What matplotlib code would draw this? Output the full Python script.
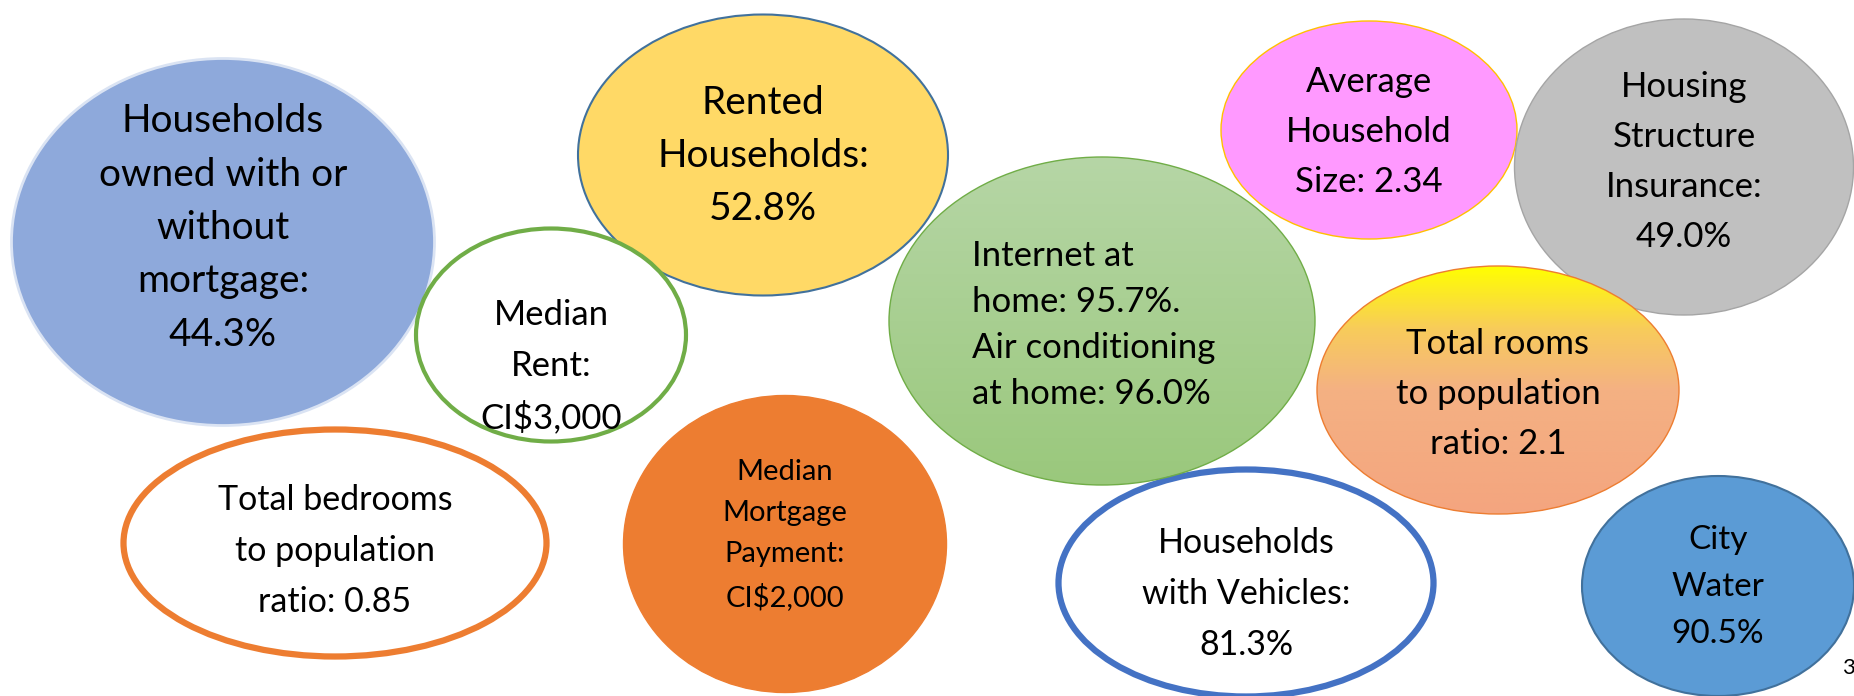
#!/usr/bin/env python3
"""
plot.py

Housing bubble infographic: one ellipse per housing statistic.
Writes out.png (1854x696).
"""

import matplotlib

matplotlib.use("Agg")
import matplotlib.pyplot as plt  # noqa: E402
import numpy as np  # noqa: E402
from matplotlib.colors import LinearSegmentedColormap  # noqa: E402
from matplotlib.patches import Ellipse  # noqa: E402

plt.rcParams["font.family"] = ["Lato", "DejaVu Sans"]

# the statistics shown in the bubbles
owned_pct = 44.3
rented_pct = 52.8
median_rent = "CI$3,000"
internet_pct = 95.7
aircon_pct = 96.0
avg_household_size = 2.34
insurance_pct = 49.0
rooms_ratio = 2.1
bedrooms_ratio = 0.85
median_mortgage = "CI$2,000"
vehicles_pct = 81.3
city_water_pct = 90.5

labels = [
    f"Households\nowned with or\nwithout\nmortgage:\n{owned_pct}%",
    f"Rented\nHouseholds:\n{rented_pct}%",
    f"Median\nRent:\n{median_rent}",
    f"Internet at\nhome: {internet_pct}%.\nAir conditioning\nat home: {aircon_pct}%",
    f"Average\nHousehold\nSize: {avg_household_size}",
    f"Housing\nStructure\nInsurance:\n{insurance_pct}%",
    f"Total rooms\nto population\nratio: {rooms_ratio}",
    f"Total bedrooms\nto population\nratio: {bedrooms_ratio}",
    f"Median\nMortgage\nPayment:\n{median_mortgage}",
    f"Households\nwith Vehicles:\n{vehicles_pct}%",
    f"City\nWater\n{city_water_pct}%",
]

# layout in pixels (x, y from top-left), kept apart from the values
centers = [(223, 242), (763, 155), (551, 335), (1102, 321), (1369, 130), (1684, 167),
           (1498, 390), (335, 543), (785, 544), (1246, 583), (1718, 586)]
widths = [423, 370, 270, 426, 296, 339, 362, 423, 323, 375, 272]
heights = [367, 281, 213, 328, 218, 296, 248, 227, 297, 227, 220]
text_pos = [(223, 228), (763, 156), (551, 367), (972, 325), (1369, 132), (1684, 162),
            (1498, 394), (335, 551), (785, 535), (1246, 594), (1718, 587)]
text_align = ["center", "center", "center", "left", "center", "center",
              "center", "center", "center", "center", "center"]
font_sizes = [28, 28, 25, 25, 25, 25, 25, 24.5, 21, 24.5, 24]
line_spacings = [1.6, 1.6, 1.7, 1.55, 1.7, 1.7, 1.7, 1.72, 1.7, 1.72, 1.72]

# styles: fill ("grad:<name>" for gradients), edge colour, edge width
fills = ["#8EA9DB", "#FFD966", "white", "grad:green", "#FF99FF", "#C0C0C0",
         "grad:rooms", "white", "#ED7D31", "white", "#5B9BD5"]
edges = ["#DAE3F3", "#41719C", "#70AD47", "#70AD47", "#FFC000", "#A5A5A5",
         "#ED7D31", "#ED7D31", "#ED7D31", "#4472C4", "#41719C"]
edge_widths = [2.0, 1.5, 3.0, 1.0, 1.0, 1.0, 1.0, 4.5, 1.0, 4.5, 1.5]

gradients = {
    "green": [(0.0, "#B6D6A6"), (1.0, "#9AC87C")],
    "rooms": [(0.0, "#FFFF00"), (0.25, "#F8CC5A"), (0.5, "#F4B183"), (1.0, "#F4A57F")],
}

W, H = 1854, 696
fig = plt.figure(figsize=(W / 100, H / 100), dpi=100)
ax = fig.add_axes([0, 0, 1, 1])
ax.set_xlim(0, W)
ax.set_ylim(H, 0)
ax.axis("off")

for i, lab in enumerate(labels):
    cx, cy = centers[i]
    w, h = widths[i], heights[i]
    fill = fills[i]
    if fill.startswith("grad:"):
        e = Ellipse((cx, cy), w, h, facecolor="none", edgecolor=edges[i],
                    linewidth=edge_widths[i], zorder=3)
        ax.add_patch(e)
        cmap = LinearSegmentedColormap.from_list(fill, gradients[fill[5:]])
        grad = np.linspace(0, 1, 256).reshape(-1, 1)
        im = ax.imshow(grad, cmap=cmap, aspect="auto", zorder=2,
                       extent=(cx - w / 2, cx + w / 2, cy + h / 2, cy - h / 2))
        im.set_clip_path(e)
    else:
        e = Ellipse((cx, cy), w, h, facecolor=fill, edgecolor=edges[i],
                    linewidth=edge_widths[i], zorder=2)
        ax.add_patch(e)

    tx, ty = text_pos[i]
    ax.text(tx, ty, lab, ha=text_align[i], va="center", multialignment=text_align[i],
            fontsize=font_sizes[i], linespacing=line_spacings[i], color="black", zorder=5)

# slide number, cut at the right edge
ax.text(1842, 668, "3", ha="left", va="center", fontsize=16, color="black")

ax.set_xlim(0, W)
ax.set_ylim(H, 0)
fig.savefig("out.png", dpi=100)
